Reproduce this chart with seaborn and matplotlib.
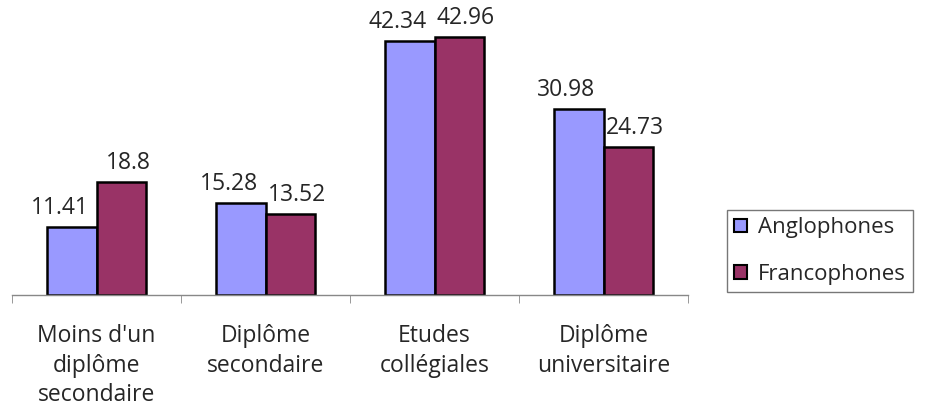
import pandas as pd
import matplotlib.pyplot as plt
import seaborn as sns

categories = ["Moins d'un\ndiplôme\nsecondaire", "Diplôme\nsecondaire",
              "Etudes\ncollégiales", "Diplôme\nuniversitaire"]
anglophones = [11.41, 15.28, 42.34, 30.98]
francophones = [18.8, 13.52, 42.96, 24.73]
groups = ["Anglophones", "Francophones"]
colors = ["#9999FF", "#993366"]

df = pd.DataFrame({
    "cat": categories * 2,
    "val": anglophones + francophones,
    "group": [groups[0]] * 4 + [groups[1]] * 4,
})

sns.set_style("white")
plt.rcParams['font.family'] = ['Open Sans', 'DejaVu Sans']

fig = plt.figure(figsize=(9.25, 4.13), dpi=100)
ax = fig.add_axes([12 / 925, 118 / 413, 676 / 925, 288 / 413])

sns.barplot(data=df, x="cat", y="val", hue="group", palette=colors, saturation=1,
            edgecolor="black", linewidth=1.8, width=0.58, ax=ax)

# value labels, pushed apart a little like the original
shifts = [-9, 5]
for cont, dx in zip(ax.containers, shifts):
    for ann in ax.bar_label(cont, fmt="%g", padding=5, fontsize=16.5):
        ann.xyann = (dx, 5)

ax.set_xlim(-0.5, 3.5)
ax.set_ylim(0, 48)
ax.set_xlabel("")
ax.set_ylabel("")
ax.set_yticks([])
for s in ["top", "right", "left"]:
    ax.spines[s].set_visible(False)
ax.spines["bottom"].set_color("#888888")
ax.spines["bottom"].set_linewidth(1)

ax.set_xticks([-0.5, 0.5, 1.5, 2.5, 3.5], minor=True)
ax.tick_params(axis="x", which="minor", length=6, color="#888888", bottom=True)
ax.tick_params(axis="x", which="major", length=0, pad=21, labelsize=16.5)
for lbl in ax.get_xticklabels():
    lbl.set_linespacing(1.3)

handles, labels = ax.get_legend_handles_labels()
leg = ax.legend(handles, labels, loc="center", bbox_to_anchor=(820 / 925, 1 - 251 / 413),
                bbox_transform=fig.transFigure, frameon=True, fancybox=False,
                edgecolor="#555555", fontsize=16, handlelength=0.55, handleheight=0.55,
                handletextpad=0.5, labelspacing=1.15, borderpad=0.32, borderaxespad=0)
leg.get_frame().set_linewidth(1)
for h in leg.legend_handles:
    h.set_edgecolor("black")
    h.set_linewidth(1.5)

fig.savefig("out.png", dpi=100)
